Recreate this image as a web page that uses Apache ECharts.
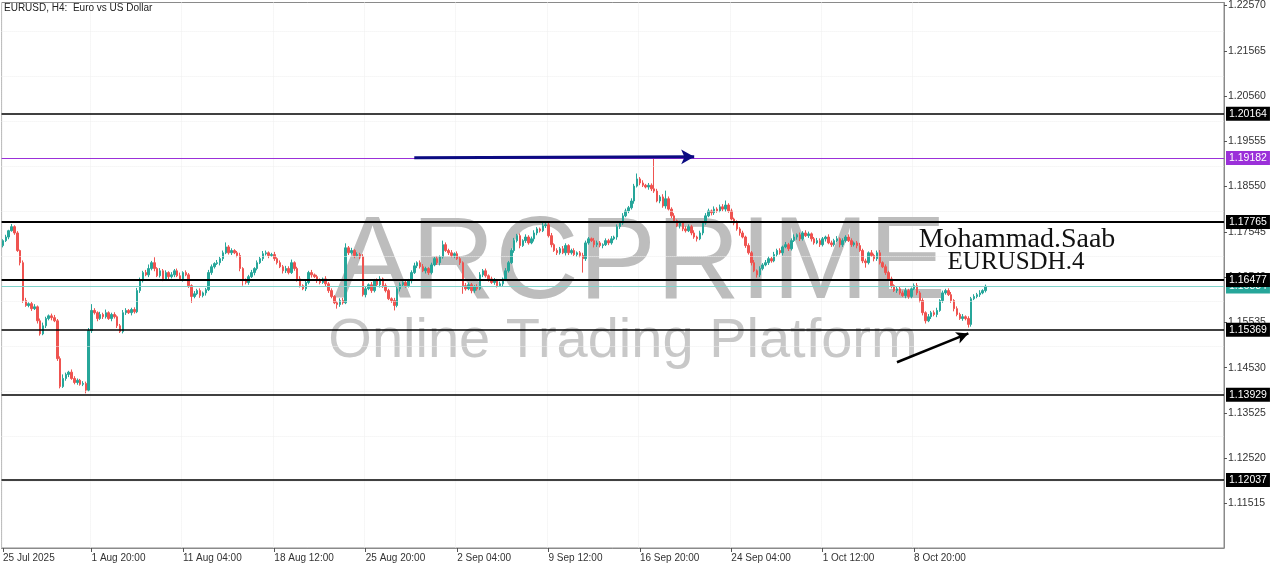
<!DOCTYPE html>
<html><head><meta charset="utf-8">
<script src="https://cdn.jsdelivr.net/npm/echarts@6/dist/echarts.min.js"></script>
<style>html,body{margin:0;padding:0;background:#fff}#c{width:1280px;height:568px}</style>
</head><body><div id="c"></div>
<script>
const chartTitle = 'EURUSD, H4:  Euro vs US Dollar';
const tickIndex = [0, 31, 63, 95, 127, 159, 191, 223, 255, 287, 319];
const tickLabels = ['25 Jul 2025', '1 Aug 20:00', '11 Aug 04:00', '18 Aug 12:00', '25 Aug 20:00', '2 Sep 04:00', '9 Sep 12:00', '16 Sep 20:00', '24 Sep 04:00', '1 Oct 12:00', '8 Oct 20:00'];
const priceTicks = [1.11515, 1.12520, 1.13525, 1.14530, 1.15535, 1.16540, 1.17545, 1.18550, 1.19555, 1.20560, 1.21565, 1.22570];
const firstOpen = 1.1724;
const closes = [
1.1735,1.1743,1.1757,1.1766,1.1752,1.1713,1.1686,1.1602,1.1591,1.1595,
1.1584,1.1588,1.1557,1.1528,1.1546,1.1562,1.1568,1.1564,1.1557,1.1473,
1.1411,1.1429,1.1438,1.1443,1.1429,1.1420,1.1425,1.1416,1.1418,1.1403,
1.1535,1.1580,1.1575,1.1562,1.1571,1.1566,1.1575,1.1562,1.1571,1.1566,
1.1546,1.1533,1.1575,1.1580,1.1575,1.1582,1.1577,1.1624,1.1646,1.1664,
1.1659,1.1673,1.1686,1.1673,1.1657,1.1668,1.1650,1.1664,1.1655,1.1659,
1.1668,1.1657,1.1650,1.1664,1.1659,1.1635,1.1611,1.1617,1.1624,1.1613,
1.1619,1.1626,1.1664,1.1677,1.1684,1.1686,1.1695,1.1708,1.1721,1.1708,
1.1713,1.1708,1.1702,1.1673,1.1646,1.1642,1.1655,1.1664,1.1673,1.1686,
1.1695,1.1706,1.1708,1.1702,1.1704,1.1695,1.1686,1.1677,1.1668,1.1673,
1.1664,1.1686,1.1673,1.1650,1.1635,1.1628,1.1642,1.1664,1.1659,1.1655,
1.1646,1.1642,1.1650,1.1639,1.1624,1.1611,1.1597,1.1593,1.1602,1.1597,
1.1719,1.1708,1.1713,1.1702,1.1704,1.1699,1.1615,1.1628,1.1637,1.1624,
1.1646,1.1637,1.1650,1.1635,1.1624,1.1606,1.1602,1.1591,1.1628,1.1637,
1.1642,1.1635,1.1646,1.1664,1.1679,1.1686,1.1677,1.1668,1.1673,1.1664,
1.1681,1.1695,1.1686,1.1699,1.1726,1.1713,1.1708,1.1702,1.1706,1.1695,
1.1686,1.1635,1.1628,1.1637,1.1624,1.1633,1.1628,1.1659,1.1668,1.1657,
1.1650,1.1642,1.1646,1.1635,1.1639,1.1650,1.1668,1.1686,1.1713,1.1735,
1.1746,1.1724,1.1735,1.1743,1.1730,1.1739,1.1752,1.1761,1.1757,1.1768,
1.1770,1.1746,1.1726,1.1713,1.1708,1.1717,1.1708,1.1724,1.1708,1.1713,
1.1704,1.1708,1.1702,1.1695,1.1730,1.1739,1.1735,1.1726,1.1730,1.1724,
1.1726,1.1735,1.1730,1.1739,1.1743,1.1766,1.1774,1.1790,1.1801,1.1808,
1.1823,1.1856,1.1872,1.1863,1.1858,1.1854,1.1858,1.1850,1.1845,1.1823,
1.1832,1.1812,1.1828,1.1805,1.1790,1.1779,1.1768,1.1774,1.1761,1.1757,
1.1766,1.1752,1.1743,1.1739,1.1752,1.1774,1.1790,1.1801,1.1797,1.1805,
1.1801,1.1810,1.1805,1.1814,1.1801,1.1783,1.1774,1.1761,1.1752,1.1743,
1.1724,1.1708,1.1686,1.1668,1.1659,1.1673,1.1681,1.1686,1.1695,1.1690,
1.1704,1.1713,1.1708,1.1721,1.1726,1.1717,1.1735,1.1743,1.1748,1.1739,
1.1752,1.1746,1.1750,1.1739,1.1730,1.1735,1.1726,1.1739,1.1743,1.1730,
1.1726,1.1735,1.1739,1.1726,1.1735,1.1743,1.1735,1.1726,1.1730,1.1724,
1.1713,1.1690,1.1686,1.1708,1.1702,1.1695,1.1708,1.1686,1.1677,1.1664,
1.1650,1.1635,1.1624,1.1628,1.1619,1.1613,1.1624,1.1611,1.1628,1.1635,
1.1619,1.1602,1.1575,1.1557,1.1566,1.1575,1.1571,1.1580,1.1602,1.1619,
1.1624,1.1615,1.1602,1.1584,1.1571,1.1562,1.1566,1.1562,1.1549,1.1606,
1.1611,1.1615,1.1619,1.1624,1.16334
];
// upper / lower shadow length of each candle, in pips
const wickUp = [
3,5,2,6,3,4,2,5,6,3, 4,6,3,5,7,4,3,5,6,4, 5,9,4,3,6,5,4,3,5,4, 6,14,5,3,6,4,7,3,4,5,
3,4,6,5,3,4,5,6,7,4, 6,9,4,12,3,6,4,5,3,6, 4,5,7,3,5,4,3,6,4,5, 3,4,6,5,3,6,4,5,10,4,
5,3,4,6,3,5,4,6,3,5, 4,6,5,3,4,6,3,5,4,6, 5,7,3,4,6,3,5,4,6,3, 4,5,3,6,4,5,3,4,5,6,
10,4,6,3,5,4,6,5,3,6, 4,5,6,3,5,4,3,6,4,5, 3,6,4,5,7,3,5,6,4,3, 5,4,6,3,9,5,4,6,3,5,
4,3,6,5,4,3,5,6,4,5, 3,5,6,4,5,3,6,4,5,6, 4,5,3,6,4,5,6,4,3,9, 4,5,6,3,5,4,6,5,3,4,
5,3,4,6,5,4,3,6,5,4, 3,5,4,6,3,5,4,6,5,4, 6,5,12,4,6,3,5,4,68,5, 4,6,18,5,4,6,3,5,4,6,
5,4,6,3,5,4,6,5,3,6, 4,5,6,10,4,5,3,6,4,5, 3,5,4,6,3,5,4,6,5,4, 6,4,5,3,6,4,5,6,3,5,
4,6,5,3,4,6,5,4,3,6, 5,4,6,3,5,4,6,5,3,4, 6,4,5,3,6,4,5,6,3,5, 4,5,3,6,4,5,6,4,3,5,
6,4,5,3,6,4,5,6,3,5, 4,5,6,3,5,4,6,3,5,4, 5,4,6,3,4
];
const wickDown = [
4,3,5,2,4,3,6,5,3,4, 5,3,6,4,3,5,4,6,3,5, 4,3,5,6,3,4,5,3,4,7, 3,5,4,6,3,5,4,3,6,4,
5,3,4,5,3,6,4,3,5,4, 3,5,4,6,3,4,5,3,6,4, 5,3,4,6,3,5,14,4,3,5, 4,6,3,5,4,3,6,5,3,4,
5,3,4,6,11,4,5,3,6,4, 3,5,4,6,3,5,4,3,6,5, 4,3,5,6,4,3,5,4,6,3, 5,4,3,6,5,4,3,9,5,4,
3,5,4,6,3,5,4,6,3,5, 4,3,6,5,4,3,5,11,4,6, 3,5,4,6,3,5,4,3,6,5, 4,3,5,6,4,3,5,4,6,3,
5,18,4,3,6,5,4,3,5,4, 6,3,5,4,3,6,5,4,3,5, 4,6,3,5,4,3,6,5,4,3, 5,4,6,3,5,4,3,6,5,4,
3,5,4,31,5,4,3,6,5,4, 6,3,5,4,3,6,5,4,3,5, 4,6,3,5,4,3,6,5,4,3, 5,4,6,3,5,4,3,6,5,4,
3,5,4,6,3,5,4,3,6,5, 4,3,5,6,4,3,5,4,6,3, 5,4,6,3,6,5,4,3,5,4, 3,5,4,6,3,5,4,3,6,5,
4,3,5,6,4,3,5,4,6,3, 5,4,3,6,5,4,3,5,4,6, 3,5,11,4,3,6,5,4,3,5, 4,6,3,5,4,3,6,5,4,3,
5,4,6,6,3,5,4,6,3,5, 4,3,5,6,4,3,5,4,7,5, 3,4,5,3,4
];
const levelLines = [1.20164, 1.17765, 1.16477, 1.15369, 1.13929, 1.12037];
const keyLevel = 1.19182;
const lastPrice = 1.16334;
const blueArrow = [[144, 1.1919], [242, 1.1921]];
const blackArrow = [[313, 1.1465], [338, 1.1529]];
const authorText = 'Mohammad.Saab';
const symbolText = 'EURUSDH.4';
const totalSlots = 428;

const categories = [];
for (let i = 0; i < totalSlots; i++) categories.push(String(i));
const candles = closes.map((c, i) => {
  const o = i === 0 ? firstOpen : closes[i - 1];
  const hi = Math.max(o, c) + wickUp[i] * 0.0001;
  const lo = Math.min(o, c) - wickDown[i] * 0.0001;
  return [o, c, +lo.toFixed(5), +hi.toFixed(5)];
});
const tickMap = {};
tickIndex.forEach((k, j) => { tickMap[k] = tickLabels[j]; });
const isTick = (idx) => tickMap[idx] !== undefined;

const boxLabel = (bg) => ({
  show: true, position: 'end', distance: 2,
  formatter: (p) => p.value.toFixed(5),
  backgroundColor: bg, color: '#fff', fontSize: 10.5,
  fontFamily: 'Liberation Sans', padding: [2, 3, 1, 3]
});

const levelData = levelLines.map((v) => ({
  yAxis: v,
  lineStyle: { color: '#000', width: (v === 1.17765 || v === 1.16477) ? 2.2 : 1.6, type: 'solid' },
  label: boxLabel('#000')
}));
const mlData = [
  { yAxis: lastPrice, lineStyle: { color: '#7fd3cb', width: 1, type: 'solid' }, label: boxLabel('#26a69a') },
  ...levelData,
  { yAxis: keyLevel, lineStyle: { color: '#9b30d9', width: 1.2, type: 'solid' }, label: boxLabel('#9b30d9') },
  [
    { coord: blueArrow[0], symbol: 'none', lineStyle: { color: '#0b0b82', width: 3, type: 'solid' }, label: { show: false } },
    { coord: blueArrow[1], symbol: 'arrow', symbolSize: [11, 13] }
  ],
  [
    { coord: blackArrow[0], symbol: 'none', lineStyle: { color: '#000', width: 2.5, type: 'solid' }, label: { show: false } },
    { coord: blackArrow[1], symbol: 'arrow', symbolSize: [9, 12] }
  ]
];

const chart = echarts.init(document.getElementById('c'));
chart.setOption({
  animation: false,
  backgroundColor: '#fff',
  grid: { left: 1, right: 56, top: 1, bottom: 20, show: true, borderColor: '#8a8a8a', borderWidth: 1 },
  xAxis: {
    type: 'category', data: categories, boundaryGap: true,
    axisLine: { show: true, lineStyle: { color: '#8a8a8a' } },
    axisTick: { show: true, alignWithLabel: true, interval: (i) => isTick(i), length: 4, lineStyle: { color: '#555' } },
    axisLabel: {
      interval: (i) => isTick(i), formatter: (v, i) => tickMap[i] || '',
      align: 'left', margin: 5, color: '#333', fontSize: 10, fontFamily: 'Liberation Sans'
    },
    splitLine: { show: true, interval: (i) => isTick(i), lineStyle: { color: '#eeeeee', type: 'dotted' } }
  },
  yAxis: {
    type: 'value', position: 'right', min: 1.10526, max: 1.22636, scale: true,
    axisLine: { show: true, lineStyle: { color: '#8a8a8a' } },
    axisTick: { show: true, customValues: priceTicks, length: 3, lineStyle: { color: '#555' } },
    axisLabel: {
      customValues: priceTicks, formatter: (v) => v.toFixed(5),
      margin: 4, color: '#333', fontSize: 10.5, fontFamily: 'Liberation Sans'
    },
    splitLine: { show: false }
  },
  graphic: [
    { type: 'text', z: 1, x: 640, y: 266, silent: true,
      style: { text: 'ARCPRIME', fontSize: 116, fontFamily: 'Liberation Sans', fill: '#bdbdbd', align: 'center', verticalAlign: 'middle' } },
    { type: 'text', z: 1, x: 623, y: 342, silent: true,
      style: { text: 'Online Trading Platform', fontSize: 56, fontFamily: 'Liberation Sans', fill: '#c8c8c8', align: 'center', verticalAlign: 'middle' } },
    { type: 'text', z: 50, x: 4, y: 3,
      style: { text: chartTitle, fontSize: 10, fontFamily: 'Liberation Sans', fill: '#222', align: 'left', verticalAlign: 'top' } },
    { type: 'text', z: 50, x: 1017, y: 240,
      style: { text: authorText, fontSize: 28, fontFamily: 'Liberation Serif', fill: '#111', align: 'center', verticalAlign: 'middle' } },
    { type: 'text', z: 50, x: 1016, y: 262,
      style: { text: symbolText, fontSize: 25, fontFamily: 'Liberation Serif', fill: '#111', align: 'center', verticalAlign: 'middle' } }
  ],
  series: [
    {
      type: 'line', z: 1, data: [], silent: true,
      markLine: {
        silent: true, symbol: ['none', 'none'], animation: false,
        label: { show: false },
        lineStyle: { color: '#efefef', type: 'dotted', width: 1 },
        data: priceTicks.map((v) => ({ yAxis: v }))
      }
    },
    {
      type: 'candlestick', z: 3, data: candles, barWidth: '70%',
      itemStyle: { color: '#26a69a', color0: '#ef5350', borderColor: '#26a69a', borderColor0: '#ef5350', borderWidth: 1 },
      markLine: { silent: true, symbol: ['none', 'none'], animation: false, precision: 5, data: mlData }
    }
  ]
});
</script>
</body></html>
